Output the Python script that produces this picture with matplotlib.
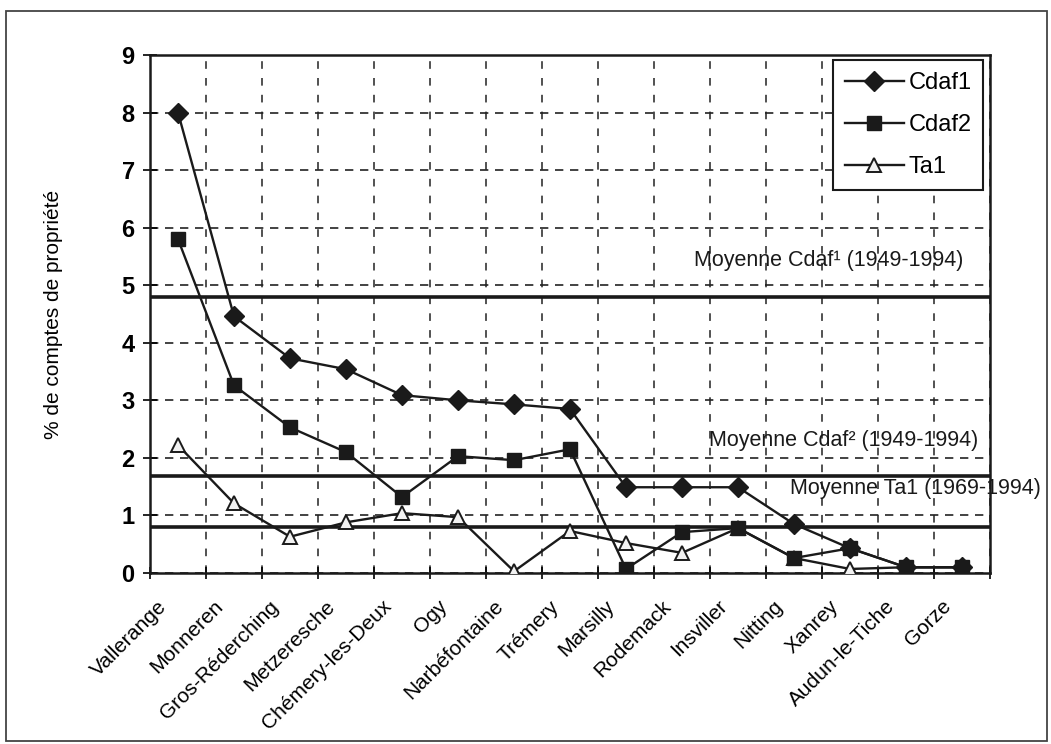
import matplotlib
matplotlib.use("Agg")
import matplotlib.pyplot as plt
import matplotlib.transforms as mtransforms
from matplotlib.patches import Rectangle
import numpy as np

plt.rcParams["font.family"] = ["Liberation Sans", "DejaVu Sans"]

communes = ["Vallerange", "Monneren", "Gros-Réderching", "Metzeresche",
            "Chémery-les-Deux", "Ogy", "Narbéfontaine", "Trémery", "Marsilly",
            "Rodemack", "Insviller", "Nitting", "Xanrey", "Audun-le-Tiche", "Gorze"]
cdaf1 = [8.0, 4.46, 3.73, 3.54, 3.09, 3.0, 2.93, 2.85, 1.49, 1.49, 1.49, 0.85, 0.43, 0.1, 0.1]
cdaf2 = [5.8, 3.26, 2.53, 2.1, 1.32, 2.03, 1.96, 2.15, 0.07, 0.71, 0.78, 0.26, 0.43, 0.1, 0.1]
ta1 = [2.22, 1.21, 0.63, 0.88, 1.04, 0.97, 0.03, 0.73, 0.52, 0.35, 0.78, 0.26, 0.07, 0.1, 0.1]

mean_cdaf1 = 4.8
mean_cdaf2 = 1.68
mean_ta1 = 0.8

fig = plt.figure(figsize=(10.51, 7.44), dpi=100)
ax = fig.add_axes([150 / 1051, 1 - 573 / 744, 840 / 1051, (573 - 55) / 744])

x = np.arange(len(communes))
ink = "#1a1a1a"

# mean lines
for m in (mean_cdaf1, mean_cdaf2, mean_ta1):
    ax.axhline(m, color=ink, lw=2.6, zorder=2)

ax.plot(x, ta1, color=ink, lw=1.7, marker="^", ms=10, mfc="#f2f2f2", mec=ink,
        mew=1.4, label="Ta1", zorder=3)
ax.plot(x, cdaf2, color=ink, lw=1.7, marker="s", ms=9.5, mfc=ink, mec=ink,
        label="Cdaf2", zorder=4)
ax.plot(x, cdaf1, color=ink, lw=1.7, marker="D", ms=10, mfc=ink, mec=ink,
        label="Cdaf1", zorder=5)

ax.set_xlim(-0.5, 14.5)
ax.set_ylim(0, 9)
ax.set_yticks(range(10))
ax.set_yticklabels([str(i) for i in range(10)], fontsize=17, fontweight="bold")
ax.set_xticks(x)
ax.set_xticks(np.arange(-0.5, 15, 1), minor=True)
ax.set_xticklabels(communes, rotation=45, ha="right", va="center",
                   rotation_mode="anchor", fontsize=15)
ax.tick_params(axis="x", which="major", length=0, pad=22)
ax.tick_params(axis="x", which="minor", length=8, direction="inout", width=1.2)
ax.tick_params(axis="y", length=10, direction="inout", width=1.2, pad=6)

offset = mtransforms.ScaledTranslation(-14 / 100, 0, fig.dpi_scale_trans)
for lab in ax.get_xticklabels():
    lab.set_transform(lab.get_transform() + offset)

ax.grid(True, axis="y", which="major", ls=(0, (5, 4)), color="#222222", lw=1.2)
ax.grid(True, axis="x", which="minor", ls=(0, (5, 6)), color="#222222", lw=1.1)
ax.set_axisbelow(True)
for s in ax.spines.values():
    s.set_linewidth(1.8)
    s.set_color(ink)

ax.set_ylabel("% de comptes de propriété", fontsize=15, labelpad=42)

ax.text(14.02, 5.43, "Moyenne Cdaf¹ (1949-1994)", ha="right", va="center",
        fontsize=15.5, color=ink)
ax.text(14.29, 2.31, "Moyenne Cdaf² (1949-1994)", ha="right", va="center",
        fontsize=15.5, color=ink)
ax.text(10.93, 1.47, "Moyenne Ta1 (1969-1994)", ha="left", va="center",
        fontsize=15.5, color=ink, clip_on=False)

handles, labels = ax.get_legend_handles_labels()
leg = ax.legend(handles[::-1], labels[::-1], loc="upper right",
                bbox_to_anchor=(0.992, 0.99), borderaxespad=0, fontsize=17,
                frameon=True, fancybox=False, edgecolor=ink, framealpha=1,
                handlelength=2.5, handletextpad=0.2, labelspacing=0.85,
                borderpad=0.5)
leg.get_frame().set_linewidth(1.5)

fig.patches.append(Rectangle((6 / 1051, 3 / 744), 1041 / 1051, 730 / 744,
                             transform=fig.transFigure, fill=False,
                             edgecolor="#444444", lw=1.3))

fig.savefig("out.png", dpi=100)
plt.close(fig)
